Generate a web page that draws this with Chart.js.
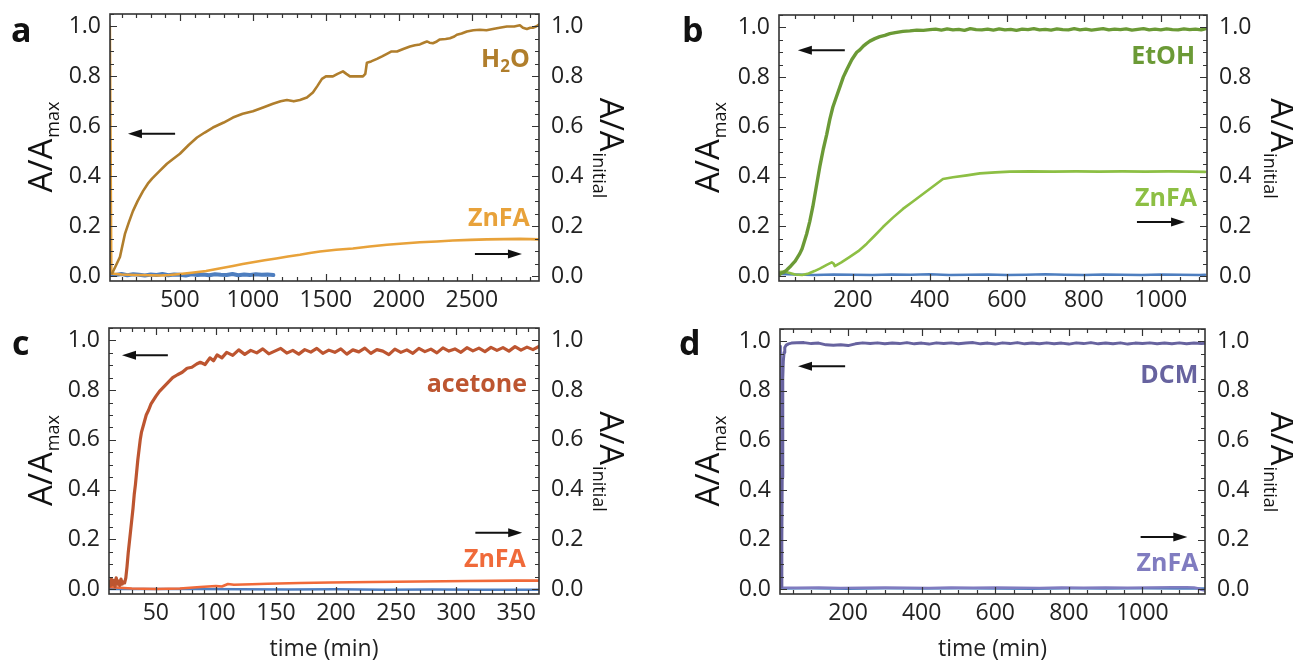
<!DOCTYPE html>
<html>
<head>
<meta charset="utf-8">
<title>Absorbance over time</title>
<script src="https://cdn.jsdelivr.net/npm/chart.js@4.4.0/dist/chart.umd.min.js"></script>
<style>
  body { margin: 0; background: #fff; width: 1293px; height: 663px; position: relative; overflow: hidden; }
  canvas { position: absolute; }
</style>
</head>
<body>
<canvas id="panelA" width="646" height="318" style="left:0;top:0"></canvas>
<canvas id="panelB" width="647" height="318" style="left:646px;top:0"></canvas>
<canvas id="panelC" width="646" height="345" style="left:0;top:318px"></canvas>
<canvas id="panelD" width="647" height="345" style="left:646px;top:318px"></canvas>
<script>
// ---- tick labels ----
const yTicks = [0, 0.2, 0.4, 0.6, 0.8, 1.0];
const aXTicks = [500, 1000, 1500, 2000, 2500];
const bXTicks = [200, 400, 600, 800, 1000];
const cXTicks = [50, 100, 150, 200, 250, 300, 350];
const dXTicks = [200, 400, 600, 800, 1000];

// ---- panel a: H2O ----
const aWaterT = [35, 60, 89, 124, 150, 178, 210, 247, 280, 309, 360, 411, 455, 500, 560, 617, 670, 726, 800, 863,
  930, 1000, 1070, 1137, 1190, 1233, 1280, 1322, 1370, 1411, 1440, 1473, 1500, 1527, 1548, 1580, 1617, 1640, 1665, 1710,
  1754, 1770, 1781, 1810, 1850, 1885, 1918, 1950, 1987, 2030, 2076, 2110, 2144, 2170, 2192, 2210, 2233, 2260, 2281, 2320,
  2350, 2380, 2397, 2430, 2466, 2510, 2555, 2600, 2644, 2690, 2740, 2790, 2829, 2850, 2877, 2900, 2918, 2940, 2960];
const aWaterV = [0.01, 0.04, 0.076, 0.17, 0.215, 0.26, 0.30, 0.34, 0.37, 0.39, 0.42, 0.45, 0.47, 0.49, 0.525, 0.555, 0.575, 0.595, 0.615, 0.635,
  0.65, 0.66, 0.675, 0.69, 0.70, 0.705, 0.70, 0.705, 0.715, 0.735, 0.76, 0.79, 0.80, 0.80, 0.80, 0.81, 0.82, 0.81, 0.80, 0.80,
  0.80, 0.81, 0.855, 0.86, 0.87, 0.88, 0.89, 0.90, 0.90, 0.91, 0.92, 0.925, 0.928, 0.935, 0.94, 0.935, 0.933, 0.94, 0.948, 0.95,
  0.953, 0.96, 0.967, 0.972, 0.98, 0.985, 0.987, 0.985, 0.99, 0.995, 1.0, 1.0, 1.005, 0.995, 0.99, 0.995, 0.995, 1.0, 1.008];
const aZnT = [20, 30, 100, 200, 300, 363, 430, 500, 580, 679, 770, 863, 930, 1000, 1080, 1160, 1240, 1322, 1390, 1459,
  1570, 1685, 1800, 1918, 2030, 2144, 2260, 2370, 2490, 2603, 2720, 2829, 2900, 2960];
const aZnV = [1.0, 0.01, 0.006, 0.004, 0.003, 0.002, 0.004, 0.008, 0.013, 0.02, 0.03, 0.04, 0.048, 0.055, 0.063, 0.07, 0.078, 0.085, 0.092, 0.098,
  0.105, 0.11, 0.118, 0.125, 0.13, 0.135, 0.138, 0.142, 0.145, 0.147, 0.148, 0.149, 0.148, 0.147];
const aBlankT = [22, 60, 100, 140, 180, 220, 260, 300, 340, 380, 420, 460, 500, 540, 580, 620, 660, 700, 740, 780,
  820, 860, 900, 940, 980, 1020, 1060, 1100, 1140];
const aBlankV = [0.006, 0.004, 0.008, 0.003, 0.007, 0.005, 0.002, 0.006, 0.004, 0.008, 0.003, 0.006, 0.005, 0.002, 0.007, 0.004, 0.006, 0.003, 0.007, 0.005,
  0.004, 0.008, 0.003, 0.006, 0.004, 0.007, 0.005, 0.006, 0.004];

// ---- panel b: EtOH ----
const bEtohT = [8, 14, 20, 28, 36, 44, 50, 56, 62, 68, 74, 80, 88, 96, 105, 114, 123, 132, 140, 148,
  157, 166, 175, 184, 197, 210, 218, 227, 235, 244, 257, 270, 283, 296, 310, 330, 348, 366, 383, 400,
  415, 430, 445, 460, 475, 490, 505, 520, 535, 550, 565, 580, 595, 610, 625, 640, 655, 670, 685, 700,
  715, 730, 745, 760, 775, 790, 805, 820, 835, 850, 865, 880, 895, 910, 925, 940, 955, 970, 985, 1000,
  1015, 1030, 1045, 1060, 1075, 1090, 1105, 1115];
const bEtohV = [0.005, 0.012, 0.015, 0.024, 0.036, 0.05, 0.06, 0.075, 0.09, 0.11, 0.14, 0.17, 0.22, 0.28, 0.36, 0.44, 0.51, 0.57, 0.63, 0.68,
  0.72, 0.76, 0.80, 0.83, 0.87, 0.90, 0.91, 0.925, 0.935, 0.945, 0.955, 0.963, 0.968, 0.975, 0.979, 0.984, 0.986, 0.989, 0.988, 0.991,
  0.993, 0.989, 0.994, 0.99, 0.992, 0.988, 0.995, 0.991, 0.99, 0.993, 0.989, 0.994, 0.99, 0.992, 0.988, 0.993, 0.991, 0.995, 0.99, 0.992,
  0.989, 0.994, 0.991, 0.99, 0.995, 0.99, 0.993, 0.989, 0.992, 0.995, 0.99, 0.993, 0.991, 0.994, 0.989, 0.992, 0.995, 0.99, 0.993, 0.99,
  0.994, 0.991, 0.99, 0.994, 0.991, 0.993, 0.99, 0.994];
const bZnT = [8, 20, 36, 50, 68, 85, 100, 114, 132, 145, 150, 153, 170, 192, 214, 236, 257, 278, 304, 330,
  356, 382, 408, 434, 460, 496, 530, 570, 608, 660, 720, 780, 840, 900, 960, 1020, 1080, 1115];
const bZnV = [0.016, 0.018, 0.012, 0.006, 0.004, 0.01, 0.02, 0.03, 0.045, 0.055, 0.05, 0.04, 0.055, 0.077, 0.1, 0.13, 0.163, 0.197, 0.235, 0.27,
  0.30, 0.33, 0.36, 0.39, 0.397, 0.405, 0.413, 0.417, 0.42, 0.421, 0.42, 0.421, 0.42, 0.421, 0.42, 0.421, 0.42, 0.419];
const bBlankT = [8, 50, 100, 150, 200, 250, 300, 350, 400, 450, 500, 550, 600, 650, 700, 750, 800, 850, 900, 950,
  1000, 1050, 1100, 1115];
const bBlankV = [0.008, 0.006, 0.004, 0.006, 0.005, 0.004, 0.006, 0.005, 0.007, 0.004, 0.005, 0.006, 0.004, 0.005, 0.007, 0.005, 0.004, 0.006, 0.005, 0.004,
  0.006, 0.005, 0.004, 0.005];

// ---- panel c: acetone ----
const cAceT = [11, 12, 13, 14, 15, 16, 17, 18, 19, 20, 21, 22, 23, 24, 25, 26, 27, 28, 29, 30,
  31, 32, 33, 34, 35, 36, 37, 38, 40, 42, 44, 46, 48, 50, 53, 56, 60, 64, 68, 72,
  76, 80, 84, 87, 91, 95, 98, 101, 105, 109, 114,
  119, 124, 129, 134, 139, 144, 149, 154, 159, 164, 169, 174, 179, 184, 189, 194, 199, 204, 209, 214,
  219, 224, 229, 234, 239, 244, 249, 254, 259, 264, 269, 274, 279, 284, 289, 294, 299, 304, 309, 314,
  319, 324, 329, 334, 339, 344, 349, 354, 359, 364, 369];
const cAceV = [0.03, 0.012, 0.04, 0.018, 0.035, 0.01, 0.045, 0.02, 0.032, 0.014, 0.04, 0.02, 0.028, 0.025, 0.045, 0.09, 0.145, 0.19, 0.235, 0.28,
  0.325, 0.38, 0.42, 0.47, 0.52, 0.56, 0.60, 0.63, 0.665, 0.70, 0.72, 0.745, 0.76, 0.775, 0.795, 0.81, 0.83, 0.85, 0.862, 0.872,
  0.888, 0.892, 0.905, 0.912, 0.903, 0.93, 0.918, 0.942, 0.93, 0.952, 0.94,
  0.962, 0.944, 0.96, 0.95, 0.966, 0.946, 0.957, 0.968, 0.949, 0.96, 0.945, 0.963, 0.953, 0.968, 0.948, 0.961, 0.952, 0.966, 0.945, 0.962,
  0.954, 0.969, 0.948, 0.963, 0.957, 0.943, 0.965, 0.952, 0.962, 0.948, 0.968, 0.955, 0.965, 0.95, 0.97, 0.957, 0.966, 0.952, 0.971, 0.958,
  0.969, 0.955, 0.972, 0.96, 0.971, 0.957, 0.975, 0.961, 0.973, 0.963, 0.976];
const cZnT = [11, 20, 30, 50, 70, 87, 100, 105, 110, 115, 130, 143, 170, 195, 230, 270, 310, 350, 369];
const cZnV = [0.008, 0.005, 0.002, 0.0, 0.002, 0.008, 0.012, 0.01, 0.02, 0.017, 0.019, 0.021, 0.024, 0.026, 0.028, 0.03, 0.032, 0.034, 0.034];
const cBlankT = [11, 40, 80, 120, 160, 200, 240, 280, 320, 369];
const cBlankV = [0.0, 0.0, 0.0, -0.001, -0.002, -0.001, -0.003, -0.002, -0.003, -0.003];

// ---- panel d: DCM ----
const dDcmT = [15, 18, 20, 21, 22, 23, 24, 26, 28, 32, 38, 46, 60,
  80, 100, 120, 140, 160, 180, 200, 220, 240, 260, 280, 300, 320, 340, 360, 380, 400, 420, 440, 460,
  480, 500, 520, 540, 560, 580, 600, 620, 640, 660, 680, 700, 720, 740, 760, 780, 800, 820, 840, 860,
  880, 900, 920, 940, 960, 980, 1000, 1020, 1040, 1060, 1080, 1100, 1120, 1140, 1160, 1170];
const dDcmV = [0.005, 0.01, 0.2, 0.45, 0.7, 0.85, 0.92, 0.955, 0.975, 0.985, 0.99, 0.993, 0.994,
  0.995, 0.991, 0.993, 0.986, 0.984, 0.986, 0.983, 0.99, 0.994, 0.991, 0.994, 0.99, 0.993, 0.991, 0.995, 0.99, 0.993, 0.989, 0.994, 0.991,
  0.994, 0.99, 0.993, 0.995, 0.99, 0.993, 0.989, 0.994, 0.991, 0.995, 0.99, 0.993, 0.99, 0.994, 0.99, 0.993, 0.989, 0.994, 0.991, 0.995,
  0.99, 0.993, 0.99, 0.994, 0.989, 0.993, 0.991, 0.994, 0.99, 0.993, 0.99, 0.994, 0.99, 0.993, 0.991, 0.993];
const dZnT = [15, 17, 19, 60, 120, 180, 240, 300, 360, 420, 480, 540, 600, 660, 720, 780, 840, 900, 960, 1020,
  1080, 1120, 1140, 1150, 1160, 1170];
const dZnV = [0.98, 0.5, 0.006, 0.005, 0.006, 0.004, 0.005, 0.006, 0.005, 0.004, 0.006, 0.005, 0.006, 0.005, 0.004, 0.006, 0.005, 0.006, 0.005, 0.006,
  0.007, 0.007, 0.006, 0.003, -0.003, -0.006];
const dBlankT = [15, 100, 200, 300, 400, 500, 600, 700, 800, 900, 1000, 1100, 1170];
const dBlankV = [0.002, 0.003, 0.001, 0.003, 0.002, 0.003, 0.002, 0.001, 0.003, 0.002, 0.003, 0.002, 0.002];

const FONT = '"Open Sans", "Noto Sans", sans-serif';
const INK = '#222';

function pts(ts, vs) {
  return ts.map((t, i) => ({ x: t, y: vs[i] }));
}

function line(label, ts, vs, color, width, axis) {
  return { label, data: pts(ts, vs), borderColor: color, borderWidth: width, yAxisID: axis, clip: 0 };
}

// frame + inward major/minor ticks on all 4 sides
const frame = {
  id: 'frame',
  afterDatasetsDraw(chart, args, o) {
    const { ctx, chartArea: a, scales } = chart;
    const xs = scales.x, ys = scales.y;
    ctx.save();
    ctx.strokeStyle = '#333';
    ctx.lineWidth = 1.2;
    ctx.beginPath();
    for (let v = Math.ceil(xs.min / o.xMinor) * o.xMinor; v <= xs.max; v += o.xMinor) {
      const p = Math.round(xs.getPixelForValue(v)) + 0.5;
      const major = Math.abs(v / o.xMajor - Math.round(v / o.xMajor)) < 1e-6;
      const len = major ? 7 : 4;
      ctx.moveTo(p, a.bottom); ctx.lineTo(p, a.bottom - len);
      ctx.moveTo(p, a.top); ctx.lineTo(p, a.top + len);
    }
    for (let i = Math.ceil(ys.min / 0.05); i * 0.05 <= ys.max + 1e-9; i++) {
      const p = Math.round(ys.getPixelForValue(i * 0.05)) + 0.5;
      const len = i % 4 === 0 ? 7 : 4;
      ctx.moveTo(a.left, p); ctx.lineTo(a.left + len, p);
      ctx.moveTo(a.right, p); ctx.lineTo(a.right - len, p);
    }
    ctx.stroke();
    ctx.lineWidth = 1.6;
    ctx.strokeRect(a.left, a.top, a.right - a.left, a.bottom - a.top);
    ctx.restore();
  }
};

function drawAxisTitle(ctx, cx, cy, dir, sub) {
  const big = 33, small = 18, cap = big * 0.714;
  ctx.save();
  ctx.translate(cx, cy);
  ctx.rotate(dir * Math.PI / 2);
  ctx.fillStyle = '#111';
  ctx.textAlign = 'left';
  ctx.textBaseline = 'alphabetic';
  ctx.font = big + 'px ' + FONT;
  const w1 = ctx.measureText('A/A').width;
  ctx.font = small + 'px ' + FONT;
  const w2 = ctx.measureText(sub).width;
  const x0 = -(w1 + w2) / 2;
  ctx.font = big + 'px ' + FONT;
  ctx.fillText('A/A', x0, cap / 2);
  ctx.font = small + 'px ' + FONT;
  ctx.fillText(sub, x0 + w1 + 1, cap / 2 + 7);
  ctx.restore();
}

function drawArrow(ctx, x1, x2, y) {
  const dir = Math.sign(x2 - x1);
  ctx.beginPath();
  ctx.moveTo(x1, y);
  ctx.lineTo(x2 - dir * 10, y);
  ctx.stroke();
  ctx.beginPath();
  ctx.moveTo(x2, y);
  ctx.lineTo(x2 - dir * 14, y - 4.5);
  ctx.lineTo(x2 - dir * 14, y + 4.5);
  ctx.closePath();
  ctx.fill();
}

// panel letter, axis titles, solvent labels and arrows
const notes = {
  id: 'notes',
  afterDraw(chart, args, o) {
    const { ctx, chartArea: a, scales } = chart;
    const xs = scales.x, ys = scales.y;
    ctx.save();
    ctx.fillStyle = '#111';
    ctx.font = 'bold 34px ' + FONT;
    ctx.textAlign = 'left';
    ctx.textBaseline = 'alphabetic';
    ctx.fillText(o.letter, o.letterX, o.letterY);

    const cy = (a.top + a.bottom) / 2;
    drawAxisTitle(ctx, o.leftTitleX, cy, -1, 'max');
    drawAxisTitle(ctx, o.rightTitleX, cy, 1, 'initial');

    const size = 25, cap = size * 0.714;
    o.labels.forEach(l => {
      const right = xs.getPixelForValue(l.x);
      const base = ys.getPixelForValue(l.y) + cap / 2;
      const parts = l.parts || [{ t: l.text }];
      let total = 0;
      parts.forEach(p => {
        ctx.font = 'bold ' + (p.sub ? 17 : size) + 'px ' + FONT;
        p.w = ctx.measureText(p.t).width;
        total += p.w;
      });
      let x = right - total;
      ctx.fillStyle = l.color;
      ctx.textAlign = 'left';
      parts.forEach(p => {
        ctx.font = 'bold ' + (p.sub ? 17 : size) + 'px ' + FONT;
        ctx.fillText(p.t, x, base + (p.sub ? 5 : 0));
        x += p.w;
      });
    });

    ctx.strokeStyle = '#111';
    ctx.fillStyle = '#111';
    ctx.lineWidth = 2;
    o.arrows.forEach(ar => {
      drawArrow(ctx, xs.getPixelForValue(ar.from), xs.getPixelForValue(ar.to), ys.getPixelForValue(ar.y));
    });
    ctx.restore();
  }
};

function makePanel(id, p) {
  const tickFont = { family: FONT, size: 23 };
  const yAxis = (position, width, pad) => ({
    type: 'linear',
    position,
    min: -0.02,
    max: 1.05,
    grid: { display: false, drawTicks: false },
    border: { display: false },
    ticks: { font: tickFont, color: INK, padding: pad, callback: v => v.toFixed(1) },
    afterBuildTicks: s => { s.ticks = yTicks.map(v => ({ value: v })); },
    afterFit: s => { s.width = width; s.paddingTop = 0; s.paddingBottom = 0; }
  });
  new Chart(document.getElementById(id), {
    type: 'line',
    data: { datasets: p.datasets },
    options: {
      responsive: false,
      animation: false,
      events: [],
      layout: { padding: { top: p.top, left: 0, right: 0, bottom: 0 } },
      elements: {
        point: { radius: 0 },
        line: { tension: 0, borderJoinStyle: 'round', borderCapStyle: 'round' }
      },
      plugins: {
        legend: { display: false },
        tooltip: { enabled: false },
        frame: { xMajor: p.xMajor, xMinor: p.xMinor },
        notes: p.notes
      },
      scales: {
        x: {
          type: 'linear',
          min: p.xMin,
          max: p.xMax,
          grid: { display: false, drawTicks: false },
          border: { display: false },
          ticks: {
            maxRotation: 0,
            autoSkip: false,
            font: tickFont,
            color: INK,
            padding: 6,
            callback: v => String(v)
          },
          afterBuildTicks: s => { s.ticks = p.xTicks.map(v => ({ value: v })); },
          title: {
            display: !!p.xTitle,
            text: p.xTitle || '',
            font: { family: FONT, size: 23 },
            color: INK,
            padding: { top: 0, bottom: 0 }
          },
          afterFit: s => { s.height = p.xHeight; s.paddingLeft = 0; s.paddingRight = 0; }
        },
        y: yAxis('left', p.leftWidth, 9),
        y2: yAxis('right', p.rightWidth, 12)
      }
    },
    plugins: [frame, notes]
  });
}

makePanel('panelA', {
  top: 14, xHeight: 37, leftWidth: 110, rightWidth: 107,
  xMin: 21, xMax: 2960, xTicks: aXTicks, xMajor: 500, xMinor: 100,
  datasets: [
    line('H2O', aWaterT, aWaterV, '#B07E2C', 2.6, 'y'),
    line('ZnFA', aZnT, aZnV, '#E8A23A', 2.6, 'y2'),
    line('blank', aBlankT, aBlankV, '#4E7EBF', 4, 'y2')
  ],
  notes: {
    letter: 'a', letterX: 11, letterY: 42, leftTitleX: 40, rightTitleX: 612,
    labels: [
      { parts: [{ t: 'H' }, { t: '2', sub: true }, { t: 'O' }], color: '#B07E2C', x: 2897, y: 0.873 },
      { text: 'ZnFA', color: '#E8A23A', x: 2897, y: 0.235 }
    ],
    arrows: [{ from: 467, to: 144, y: 0.57 }, { from: 2521, to: 2843, y: 0.088 }]
  }
});

makePanel('panelB', {
  top: 15, xHeight: 37, leftWidth: 133, rightWidth: 86,
  xMin: 8, xMax: 1120, xTicks: bXTicks, xMajor: 200, xMinor: 50,
  datasets: [
    line('EtOH', bEtohT, bEtohV, '#6B9A36', 3.4, 'y'),
    line('ZnFA', bZnT, bZnV, '#8DBF44', 2.6, 'y2'),
    line('blank', bBlankT, bBlankV, '#4E7EBF', 2.6, 'y2')
  ],
  notes: {
    letter: 'b', letterX: 36, letterY: 42, leftTitleX: 61, rightTitleX: 637,
    labels: [
      { text: 'EtOH', color: '#6B9A36', x: 1089, y: 0.888 },
      { text: 'ZnFA', color: '#8DBF44', x: 1094, y: 0.317 }
    ],
    arrows: [{ from: 179, to: 57, y: 0.908 }, { from: 938, to: 1063, y: 0.217 }]
  }
});

makePanel('panelC', {
  top: 10, xHeight: 69, leftWidth: 109, rightWidth: 107,
  xMin: 11, xMax: 369, xTicks: cXTicks, xMajor: 50, xMinor: 10, xTitle: 'time (min)',
  datasets: [
    line('acetone', cAceT, cAceV, '#BD5530', 3.2, 'y'),
    line('ZnFA', cZnT, cZnV, '#F06A3A', 2.6, 'y2'),
    line('blank', cBlankT, cBlankV, '#4E7EBF', 2.6, 'y2')
  ],
  notes: {
    letter: 'c', letterX: 12, letterY: 37, leftTitleX: 40, rightTitleX: 612,
    labels: [
      { text: 'acetone', color: '#BD5530', x: 359, y: 0.83 },
      { text: 'ZnFA', color: '#F06A3A', x: 358, y: 0.125 }
    ],
    arrows: [{ from: 60, to: 21.8, y: 0.94 }, { from: 316, to: 355, y: 0.226 }]
  }
});

makePanel('panelD', {
  top: 11, xHeight: 69, leftWidth: 134, rightWidth: 88,
  xMin: 15, xMax: 1170, xTicks: dXTicks, xMajor: 200, xMinor: 50, xTitle: 'time (min)',
  datasets: [
    line('DCM', dDcmT, dDcmV, '#67639F', 3, 'y'),
    line('ZnFA', dZnT, dZnV, '#807CC0', 2.6, 'y2'),
    line('blank', dBlankT, dBlankV, '#4E7EBF', 2.6, 'y2')
  ],
  notes: {
    letter: 'd', letterX: 33, letterY: 37, leftTitleX: 61, rightTitleX: 637,
    labels: [
      { text: 'DCM', color: '#67639F', x: 1152, y: 0.866 },
      { text: 'ZnFA', color: '#807CC0', x: 1152, y: 0.109 }
    ],
    arrows: [{ from: 192, to: 64, y: 0.9 }, { from: 995, to: 1122, y: 0.21 }]
  }
});
</script>
</body>
</html>
